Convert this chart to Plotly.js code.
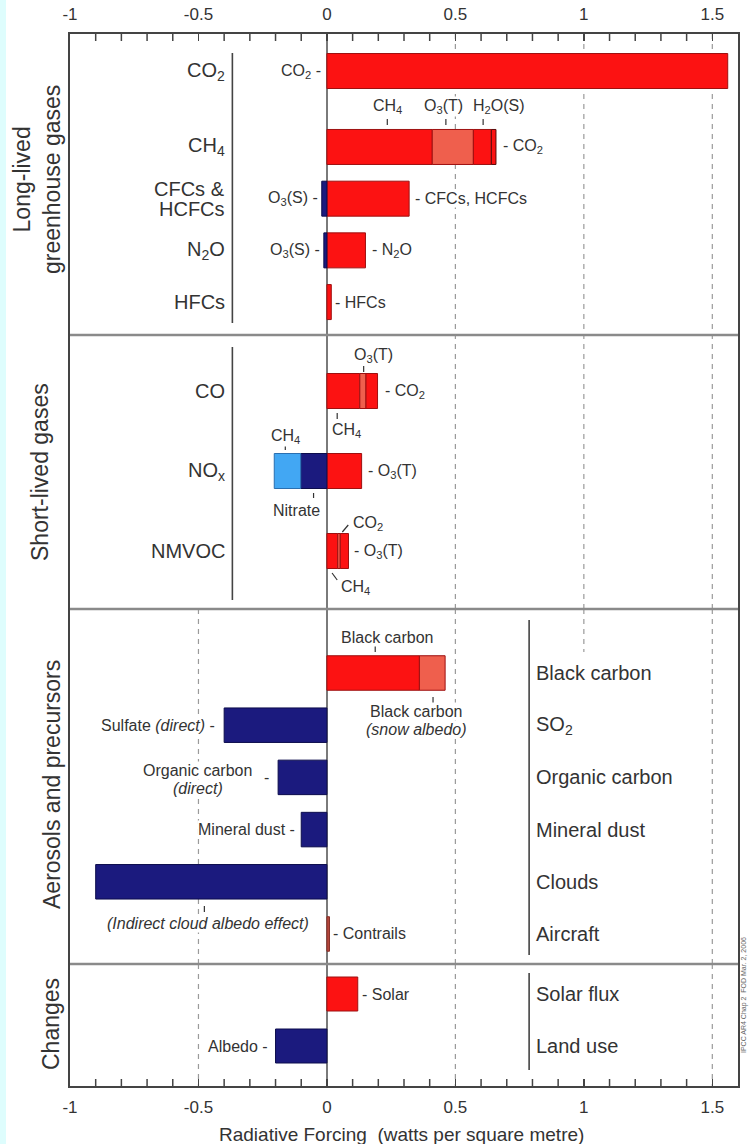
<!DOCTYPE html>
<html>
<head>
<meta charset="utf-8">
<script src="https://cdn.plot.ly/plotly-3.0.1.min.js"></script>
<style>html,body{margin:0;padding:0;background:#fff;}</style>
</head>
<body>
<div id="chart" style="width:754px;height:1144px;"></div>
<script>
// ---------------- DATA ----------------
// Long-lived greenhouse gases
const co2Cats = ['CO2'];
const co2Direct = [1.56];
const llCats = ['CH4', 'CFCs', 'N2O', 'HFCs'];
const llDirect = [0.41, 0.32, 0.15, 0.017];
const llO3T = [0.16, null, null, null];
const llH2OS = [0.07, null, null, null];
const llCO2 = [0.018, null, null, null];
const llO3S = [null, -0.02, -0.012, null];

// Short-lived gases
const slCats = ['CO', 'NOx', 'NMVOC'];
const slFirst = [0.128, 0.135, 0.042];
const slSecond = [0.024, null, 0.010];
const slThird = [0.045, null, 0.032];
const slNitrate = [null, -0.102, null];
const slCH4 = [null, -0.103, null];

// Aerosols and precursors
const aeCats = ['BC', 'SO2', 'OC', 'MD', 'Clouds', 'Aircraft'];
const aeBlackCarbon = [0.36, null, null, null, null, null];
const aeSnowAlbedo = [0.10, null, null, null, null, null];
const aeNegative = [null, -0.40, -0.19, -0.10, -0.90, null];
const aeContrails = [null, null, null, null, null, 0.01];

// Changes
const chCats = ['Solar', 'LandUse'];
const chSolar = [0.12, null];
const chAlbedo = [null, -0.20];

// Labels
const llRowLabels = ['CH<sub>4</sub>', null, 'N<sub>2</sub>O', 'HFCs'];
const slRowLabels = ['CO', 'NO<sub>x</sub>', 'NMVOC'];
const aeRowLabels = ['Black carbon', 'SO<sub>2</sub>', 'Organic carbon', 'Mineral dust', 'Clouds', 'Aircraft'];
const chRowLabels = ['Solar flux', 'Land use'];
const tickLabels = ['-1', '-0.5', '0', '0.5', '1', '1.5'];
const tickLabelValues = [-1, -0.5, 0, 0.5, 1, 1.5];

// ---------------- STYLE ----------------
const FONT = 'Liberation Sans, Arial, Helvetica, sans-serif';
const TXT = '#333333';
const RED = '#fc1212', LIGHTRED = '#ef5f4d', NAVY = '#1b1a7e', LIGHTBLUE = '#42a7f3', BROWN = '#b5483c';
const REDLINE = '#9e1010', NAVYLINE = '#0c0c4c';
const TOP = 34, BOT = 1086, L = 70, W = 668;
const py = p => (BOT - p) / (BOT - TOP);
const pxp = p => (p - L) / W;

function bar(x, y, xa, ya, color, lineColor, width) {
  return {type: 'bar', orientation: 'h', x: x, y: y, xaxis: xa, yaxis: ya, width: width,
    marker: {color: color, line: {color: lineColor, width: 1}}, hoverinfo: 'skip', showlegend: false};
}

const traces = [
  bar(co2Direct, co2Cats, 'x2', 'y', RED, REDLINE, 0.673),

  bar(llDirect, llCats, 'x', 'y2', RED, REDLINE, 0.677),
  bar(llO3T, llCats, 'x', 'y2', LIGHTRED, REDLINE, 0.677),
  bar(llH2OS, llCats, 'x', 'y2', RED, REDLINE, 0.677),
  bar(llCO2, llCats, 'x', 'y2', RED, '#5a0a0a', 0.677),
  bar(llO3S, llCats, 'x', 'y2', NAVY, NAVYLINE, 0.677),

  bar(slFirst, slCats, 'x', 'y3', RED, REDLINE, 0.4375),
  bar(slSecond, slCats, 'x', 'y3', LIGHTRED, REDLINE, 0.4375),
  bar(slThird, slCats, 'x', 'y3', RED, REDLINE, 0.4375),
  bar(slNitrate, slCats, 'x', 'y3', NAVY, NAVYLINE, 0.4375),
  bar(slCH4, slCats, 'x', 'y3', LIGHTBLUE, '#2a6fb0', 0.4375),

  bar(aeBlackCarbon, aeCats, 'x', 'y4', RED, REDLINE, 0.661),
  bar(aeSnowAlbedo, aeCats, 'x', 'y4', LIGHTRED, REDLINE, 0.661),
  bar(aeNegative, aeCats, 'x', 'y4', NAVY, NAVYLINE, 0.661),
  bar(aeContrails, aeCats, 'x', 'y4', BROWN, '#8a3028', 0.661),

  bar(chSolar, chCats, 'x', 'y5', RED, REDLINE, 0.654),
  bar(chAlbedo, chCats, 'x', 'y5', NAVY, NAVYLINE, 0.654)
];

// ---------------- ANNOTATIONS ----------------
const annotations = [];
function rowLabel(text, yref, y, yshift, x, xanchor) {
  annotations.push({text: text, xref: 'x', x: x === undefined ? -0.392 : x, xanchor: xanchor || 'right',
    yref: yref, y: y, yanchor: 'middle', yshift: yshift || 0, showarrow: false,
    font: {family: FONT, size: 20, color: TXT}, borderpad: 0});
}
function small(text, yref, y, x, xanchor, yshift) {
  annotations.push({text: text, xref: 'x', x: x, xanchor: xanchor, yref: yref, y: y, yanchor: 'middle',
    yshift: yshift || 0, showarrow: false, bgcolor: '#ffffff', borderpad: 0,
    font: {family: FONT, size: 16, color: TXT}});
}

// section 1
rowLabel('CO<sub>2</sub>', 'y', 'CO2');
small('CO<sub>2</sub> -', 'y', 'CO2', -0.02, 'right');
llCats.forEach((c, i) => { if (llRowLabels[i]) rowLabel(llRowLabels[i], 'y2', c); });
rowLabel('CFCs &amp;', 'y2', 'CFCs', 10);
rowLabel('HCFCs', 'y2', 'CFCs', -10);
small('CH<sub>4</sub>', 'y2', 'CH4', 0.235, 'center', 40);
small('O<sub>3</sub>(T)', 'y2', 'CH4', 0.455, 'center', 40);
small('H<sub>2</sub>O(S)', 'y2', 'CH4', 0.67, 'center', 40);
small('- CO<sub>2</sub>', 'y2', 'CH4', 0.68, 'left');
small('O<sub>3</sub>(S) -', 'y2', 'CFCs', -0.03, 'right');
small('- CFCs, HCFCs', 'y2', 'CFCs', 0.34, 'left');
small('O<sub>3</sub>(S) -', 'y2', 'N2O', -0.025, 'right');
small('- N<sub>2</sub>O', 'y2', 'N2O', 0.17, 'left');
small('- HFCs', 'y2', 'HFCs', 0.028, 'left');

// section 2
slCats.forEach((c, i) => rowLabel(slRowLabels[i], 'y3', c));
small('O<sub>3</sub>(T)', 'y3', 'CO', 0.18, 'center', 36);
small('- CO<sub>2</sub>', 'y3', 'CO', 0.223, 'left');
small('CH<sub>4</sub>', 'y3', 'CO', 0.075, 'center', -39);
small('CH<sub>4</sub>', 'y3', 'NOx', -0.162, 'center', 35);
small('Nitrate', 'y3', 'NOx', -0.12, 'center', -39);
small('- O<sub>3</sub>(T)', 'y3', 'NOx', 0.157, 'left');
small('CO<sub>2</sub>', 'y3', 'NMVOC', 0.158, 'center', 28);
small('- O<sub>3</sub>(T)', 'y3', 'NMVOC', 0.102, 'left');
small('CH<sub>4</sub>', 'y3', 'NMVOC', 0.11, 'center', -36);

// section 3
aeCats.forEach((c, i) => rowLabel(aeRowLabels[i], 'y4', c, 0, 0.81, 'left'));
small('Black carbon', 'y4', 'BC', 0.235, 'center', 36);
small('Black carbon', 'y4', 'BC', 0.35, 'center', -38);
small('<i>(snow albedo)</i>', 'y4', 'BC', 0.35, 'center', -56);
small('Sulfate <i>(direct)</i> -', 'y4', 'SO2', -0.43, 'right');
small('Organic carbon', 'y4', 'OC', -0.504, 'center', 7);
small('<i>(direct)</i>', 'y4', 'OC', -0.50, 'center', -11);
small('-', 'y4', 'OC', -0.236, 'center', 0);
small('Mineral dust -', 'y4', 'MD', -0.12, 'right');
small('<i>(Indirect cloud albedo effect)</i>', 'y4', 'Clouds', -0.462, 'center', -42);
small('- Contrails', 'y4', 'Aircraft', 0.02, 'left');

// section 4
chCats.forEach((c, i) => rowLabel(chRowLabels[i], 'y5', c, 0, 0.81, 'left'));
small('- Solar', 'y5', 'Solar', 0.132, 'left');
small('Albedo -', 'y5', 'LandUse', -0.225, 'right');

// section titles
function secTitle(text, xpix, ypix) {
  annotations.push({text: text, xref: 'paper', yref: 'paper', x: pxp(xpix), y: py(ypix), xanchor: 'center',
    yanchor: 'middle', textangle: -90, showarrow: false, align: 'center',
    font: {family: FONT, size: 23, color: TXT}});
}
secTitle('Long-lived<br>greenhouse gases', 37, 180);
secTitle('Short-lived gases', 40, 472);
secTitle('Aerosols and precursors', 52, 785);
secTitle('Changes', 51, 1024);

annotations.push({text: 'Radiative Forcing \u00a0(watts per square metre)', xref: 'paper', yref: 'paper',
  x: pxp(401), y: py(1134), xanchor: 'center', yanchor: 'middle', showarrow: false,
  font: {family: FONT, size: 19, color: TXT}});
annotations.push({text: 'IPCC AR4 Chap 2 \u00a0FOD Mar. 2, 2006', xref: 'paper', yref: 'paper',
  x: pxp(744), y: py(995), xanchor: 'center', yanchor: 'middle', textangle: -90, showarrow: false,
  font: {family: FONT, size: 7, color: '#666'}});

// ---------------- SHAPES ----------------
const shapes = [];
// cyan strip on the left
shapes.push({type: 'rect', xref: 'paper', yref: 'paper', x0: pxp(-2), x1: pxp(6), y0: py(1150), y1: py(-5),
  fillcolor: '#defdfd', line: {width: 0}, layer: 'below'});
function vdash(x, y0, y1) {
  shapes.push({type: 'line', xref: 'x', yref: 'paper', x0: x, x1: x, y0: py(y0), y1: py(y1),
    line: {color: '#9a9a9a', width: 1.2, dash: '5px,5px'}, layer: 'below'});
}
[0.5, 1.0, 1.5].forEach(v => vdash(v, TOP, 609));
[-0.5, 0.5, 1.5].forEach(v => vdash(v, 609, 964));
vdash(1.0, 609, 652);
[-0.5, 0.5, 1.5].forEach(v => vdash(v, 964, BOT));
// section dividers
[335, 609, 964].forEach(p => shapes.push({type: 'line', xref: 'paper', yref: 'paper', x0: 0, x1: 1,
  y0: py(p), y1: py(p), line: {color: '#8a8a8a', width: 2.5}}));
// label separators
function vline(x, y0, y1) {
  shapes.push({type: 'line', xref: 'x', yref: 'paper', x0: x, x1: x, y0: py(y0), y1: py(y1),
    line: {color: '#444', width: 1.6}});
}
vline(-0.368, 53, 323);
vline(-0.368, 347, 600);
vline(0.787, 620, 955);
vline(0.787, 973, 1070);
// small pointer ticks
function tick(x0, y0, x1, y1) {
  shapes.push({type: 'line', xref: 'x', yref: 'paper', x0: x0, x1: x1, y0: py(y0), y1: py(y1),
    line: {color: '#333', width: 1.2}});
}
tick(0.235, 119, 0.235, 125);
tick(0.463, 119, 0.463, 125);
tick(0.608, 119, 0.608, 125);
tick(0.143, 366, 0.143, 372);
tick(0.04, 413, 0.04, 419);
tick(-0.162, 445, -0.162, 450);
tick(-0.052, 493, -0.052, 498);
tick(0.06, 532, 0.083, 525);
tick(0.02, 573, 0.04, 580);
tick(0.188, 646, 0.188, 652);
tick(0.413, 697, 0.413, 703);
tick(-0.477, 906, -0.477, 912);
// minor axis ticks every 0.1 (top and bottom frame)
for (let i = -9; i <= 15; i++) {
  if (i % 5 === 0) continue;
  const v = i / 10;
  shapes.push({type: 'line', xref: 'x', yref: 'paper', x0: v, x1: v, y0: py(BOT), y1: py(BOT - 7),
    line: {color: '#444', width: 1.5}});
  shapes.push({type: 'line', xref: 'x', yref: 'paper', x0: v, x1: v, y0: py(TOP), y1: py(TOP + 7),
    line: {color: '#444', width: 1.5}});
}

// ---------------- AXES ----------------
const xCommon = {range: [-1, 1.6], domain: [0, 1], tickmode: 'array', tickvals: tickLabelValues, ticktext: tickLabels,
  ticks: 'inside', ticklen: 7, tickwidth: 1.5, tickcolor: '#444', showline: true, linecolor: '#444',
  linewidth: 2, showgrid: false, zeroline: true, zerolinecolor: '#7a7a7a', zerolinewidth: 1.5,
  tickfont: {family: FONT, size: 17, color: TXT}, ticklabelstandoff: 5, fixedrange: true};
function yax(domTopPix, domBotPix, cats, rBottom, rTop) {
  return {domain: [py(domBotPix), py(domTopPix)], type: 'category', categoryorder: 'array', categoryarray: cats,
    range: [rBottom, rTop], showline: true, mirror: true, linecolor: '#444', linewidth: 2,
    showticklabels: false, ticks: '', showgrid: false, zeroline: false, fixedrange: true};
}

const layout = {
  width: 754, height: 1144, autosize: false,
  margin: {l: L, r: 754 - L - W, t: TOP, b: 1144 - BOT, pad: 0},
  paper_bgcolor: '#ffffff', plot_bgcolor: 'rgba(0,0,0,0)',
  font: {family: FONT, color: TXT},
  barmode: 'relative', hovermode: false, showlegend: false,
  xaxis: Object.assign({}, xCommon, {anchor: 'y5', side: 'bottom'}),
  xaxis2: Object.assign({}, xCommon, {anchor: 'y', side: 'top'}),
  yaxis: yax(TOP, 105, co2Cats, 0.654, -0.712),
  yaxis2: yax(105, 335, llCats, 3.637, -0.812),
  yaxis3: yax(335, 609, slCats, 2.725, -0.7),
  yaxis4: yax(609, 964, aeCats, 5.575, -1.226),
  yaxis5: yax(964, BOT, chCats, 1.769, -0.577),
  annotations: annotations,
  shapes: shapes
};

Plotly.newPlot('chart', traces, layout, {displayModeBar: false, staticPlot: true});
</script>
</body>
</html>
